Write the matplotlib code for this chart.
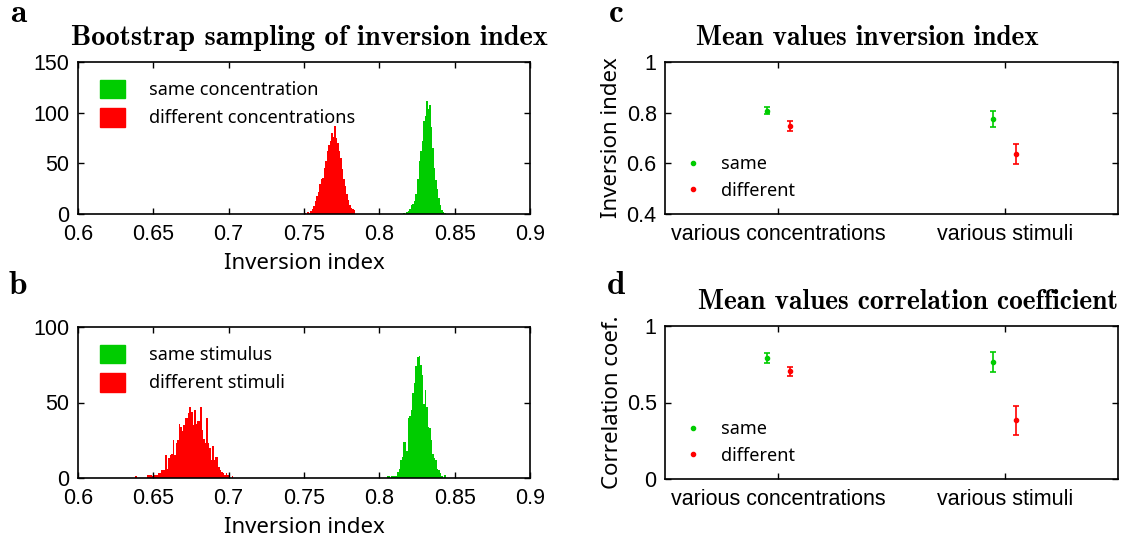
import os
import numpy as np
import matplotlib
matplotlib.use("Agg")
import matplotlib.pyplot as plt
from matplotlib.font_manager import FontProperties
from matplotlib.patches import Patch
from matplotlib.lines import Line2D

# ---------------------------------------------------------------
# data
# ---------------------------------------------------------------
bin_width = 0.001

# panel a: bootstrap histograms, concentrations
red_a_start = 0.750
red_a = [1, 0, 2, 1, 3, 5, 8, 13, 18, 22, 30, 35, 36, 45, 52, 62, 68, 72, 80,
         76, 87, 75, 70, 62, 55, 44, 35, 28, 20, 14, 9, 6, 5, 4]
green_a_start = 0.816
green_a = [1, 0, 2, 3, 5, 9, 10, 13, 20, 35, 52, 62, 72, 92, 97, 112, 104, 108,
           86, 65, 45, 34, 25, 16, 9, 4, 2, 1]

# panel b: bootstrap histograms, stimuli
red_b_start = 0.638
red_b = [1, 0, 0, 0, 0, 0, 0, 0,
         2, 2, 2, 1, 2, 2, 2, 3, 3, 5, 5, 5, 15, 6, 13, 15, 16, 25, 15, 23, 25,
         36, 34, 31, 35, 40, 40, 43, 47, 44, 35, 45, 36, 38, 38, 47, 32, 26, 23,
         40, 23, 20, 12, 21, 12, 14, 14, 7, 5, 4, 3, 2, 3, 2, 0, 0, 1]
green_b_start = 0.805
green_b = [1, 1, 0, 1, 1, 1, 1, 4, 6, 12, 14, 24, 24, 18, 40, 41, 45, 56, 63, 74,
           80, 81, 75, 68, 49, 58, 47, 34, 33, 25, 16, 13, 12, 6, 5, 3, 1, 0, 2]

hist_xticks = [0.6, 0.65, 0.7, 0.75, 0.8, 0.85, 0.9]
hist_xlabels = ["0.6", "0.65", "0.7", "0.75", "0.8", "0.85", "0.9"]

# panels c, d: means with error bars
groups = ["various concentrations", "various stimuli"]
group_pos = [1, 2]
c_same = [0.807, 0.775]
c_same_err = [0.014, 0.031]
c_diff = [0.746, 0.636]
c_diff_err = [0.020, 0.039]
d_same = [0.790, 0.765]
d_same_err = [0.035, 0.065]
d_diff = [0.705, 0.385]
d_diff_err = [0.030, 0.095]

GREEN = "#00cc00"
RED = "#ff0000"

# ---------------------------------------------------------------
# fonts
# ---------------------------------------------------------------
cmb = os.path.join(matplotlib.get_data_path(), "fonts", "ttf", "cmb10.ttf")
if os.path.exists(cmb):
    title_fp = FontProperties(fname=cmb, size=20.5)
    title_fp_small = FontProperties(fname=cmb, size=19.7)
    letter_fp = FontProperties(fname=cmb, size=24)
else:
    title_fp = FontProperties(family="DejaVu Serif", weight="bold", size=18)
    title_fp_small = FontProperties(family="DejaVu Serif", weight="bold", size=17)
    letter_fp = FontProperties(family="DejaVu Serif", weight="bold", size=21)

tick_font = "Liberation Sans"
label_font = "Noto Sans"

fig = plt.figure(figsize=(11.27, 5.45), dpi=100)
W, H = 1127.0, 545.0


def axes_px(left, right, top, bottom):
    return fig.add_axes([left / W, 1 - bottom / H, (right - left) / W,
                         (bottom - top) / H])


def style_axes(ax):
    ax.tick_params(direction="in", top=True, right=True, length=4, width=1,
                   labelsize=15.5)
    ax.tick_params(axis="x", pad=7)
    ax.tick_params(axis="y", pad=6)
    for lab in ax.get_xticklabels() + ax.get_yticklabels():
        lab.set_family(tick_font)
    for sp in ax.spines.values():
        sp.set_linewidth(1.2)


def draw_hist(ax, start, counts, color):
    edges = start + bin_width * np.arange(len(counts))
    ax.bar(edges, counts, width=bin_width, align="edge", color=color,
           linewidth=0)


def hist_legend(ax, labels):
    ax.legend([Patch(color=GREEN), Patch(color=RED)], labels,
              loc="upper left", frameon=False,
              prop={"family": label_font, "size": 13},
              handlelength=1.4, handleheight=1.2, labelspacing=0.5,
              handletextpad=1.3, borderaxespad=0.5,
              bbox_to_anchor=(0.013, 0.99))


# ---------------------------------------------------------------
# panel a
# ---------------------------------------------------------------
ax_a = axes_px(78, 530, 62, 214)
draw_hist(ax_a, green_a_start, green_a, GREEN)
draw_hist(ax_a, red_a_start, red_a, RED)
ax_a.set_xlim(0.6, 0.9)
ax_a.set_ylim(0, 150)
ax_a.set_xticks(hist_xticks)
ax_a.set_xticklabels(hist_xlabels)
ax_a.set_yticks([0, 50, 100, 150])
style_axes(ax_a)
ax_a.set_xlabel("Inversion index", fontsize=16, family=label_font, labelpad=6)
hist_legend(ax_a, ["same concentration", "different concentrations"])

# ---------------------------------------------------------------
# panel b
# ---------------------------------------------------------------
ax_b = axes_px(78, 530, 327, 478)
draw_hist(ax_b, green_b_start, green_b, GREEN)
draw_hist(ax_b, red_b_start, red_b, RED)
ax_b.set_xlim(0.6, 0.9)
ax_b.set_ylim(0, 100)
ax_b.set_xticks(hist_xticks)
ax_b.set_xticklabels(hist_xlabels)
ax_b.set_yticks([0, 50, 100])
style_axes(ax_b)
ax_b.set_xlabel("Inversion index", fontsize=16, family=label_font, labelpad=6)
hist_legend(ax_b, ["same stimulus", "different stimuli"])


# ---------------------------------------------------------------
# panels c and d
# ---------------------------------------------------------------
def draw_means(ax, same, same_err, diff, diff_err):
    xs = np.array(group_pos, dtype=float)
    ax.errorbar(xs - 0.05, same, yerr=same_err, fmt=".", color=GREEN,
                markersize=6, capsize=2.5, elinewidth=1.2, capthick=1.2)
    ax.errorbar(xs + 0.05, diff, yerr=diff_err, fmt=".", color=RED,
                markersize=6, capsize=2.5, elinewidth=1.2, capthick=1.2)
    ax.set_xlim(0.5, 2.5)
    ax.set_xticks(group_pos)
    ax.set_xticklabels(groups)
    handles = [Line2D([], [], ls="none", marker=".", color=GREEN, markersize=6),
               Line2D([], [], ls="none", marker=".", color=RED, markersize=6)]
    ax.legend(handles, ["same", "different"], loc="lower left", frameon=False,
              prop={"family": label_font, "size": 13}, handlelength=1.5,
              labelspacing=0.45, bbox_to_anchor=(-0.004, -0.012))


ax_c = axes_px(665, 1118, 62, 214)
draw_means(ax_c, c_same, c_same_err, c_diff, c_diff_err)
ax_c.set_ylim(0.4, 1)
ax_c.set_yticks([0.4, 0.6, 0.8, 1.0])
ax_c.set_yticklabels(["0.4", "0.6", "0.8", "1"])
style_axes(ax_c)
ax_c.set_ylabel("Inversion index", fontsize=16, family=label_font, labelpad=3)

ax_d = axes_px(665, 1118, 326, 479)
draw_means(ax_d, d_same, d_same_err, d_diff, d_diff_err)
ax_d.set_ylim(0, 1)
ax_d.set_yticks([0, 0.5, 1.0])
ax_d.set_yticklabels(["0", "0.5", "1"])
style_axes(ax_d)
ax_d.set_ylabel("Correlation coef.", fontsize=16, family=label_font, labelpad=3)

# ---------------------------------------------------------------
# titles and panel letters
# ---------------------------------------------------------------
fig.text(309 / W, 1 - 38 / H, "Bootstrap sampling of inversion index",
         fontproperties=title_fp, ha="center", va="center")
fig.text(867 / W, 1 - 38 / H, "Mean values inversion index",
         fontproperties=title_fp_small, ha="center", va="center")
fig.text(908 / W, 1 - 302 / H, "Mean values correlation coefficient",
         fontproperties=title_fp_small, ha="center", va="center")
for x, y, s in [(18, 14, "a"), (18, 285, "b"), (616, 14, "c"), (616, 285, "d")]:
    fig.text(x / W, 1 - y / H, s, fontproperties=letter_fp, ha="center",
             va="center")

fig.savefig("out.png", dpi=100)
